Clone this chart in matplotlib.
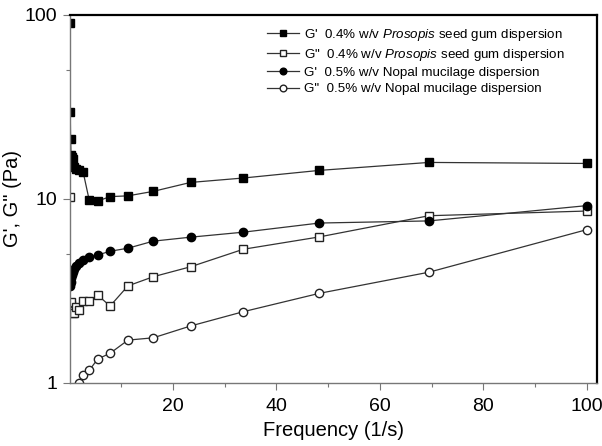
import numpy as np
import matplotlib.pyplot as plt

plt.rcParams['font.family'] = ['Liberation Sans', 'DejaVu Sans']
plt.rcParams['mathtext.fontset'] = 'custom'
plt.rcParams['mathtext.it'] = 'Liberation Sans:italic'
plt.rcParams['mathtext.rm'] = 'Liberation Sans'

# frequency sweep (1/s), 20 log-spaced points
freq = [0.1, 0.144, 0.207, 0.298, 0.429, 0.617, 0.887, 1.28, 1.83, 2.64,
        3.80, 5.46, 7.85, 11.3, 16.2, 23.4, 33.6, 48.3, 69.5, 100]

g1_prosopis = [90, 29.8, 21.1, 17.3, 17.0, 16.5, 15.0, 14.6, 14.4, 14.0,
               9.9, 9.75, 10.3, 10.4, 11.0, 12.3, 13.0, 14.3, 15.8, 15.6]
g2_prosopis = [10.2, 2.7, 2.65, 2.75, 2.45, 2.4, 2.4, 2.6, 2.5, 2.8,
               2.8, 3.0, 2.62, 3.37, 3.78, 4.28, 5.33, 6.22, 8.11, 8.6]
g1_nopal = [3.35, 3.45, 3.55, 3.7, 3.85, 4.0, 4.15, 4.3, 4.47, 4.66,
            4.85, 4.96, 5.2, 5.4, 5.9, 6.2, 6.6, 7.4, 7.6, 9.2]
# G'' nopal: points below 1 Pa fall outside the axis
freq_g2_nopal = freq[7:]
g2_nopal = [0.9, 1.0, 1.1, 1.17, 1.35, 1.45, 1.71, 1.76, 2.04, 2.44, 3.07, 4.0, 6.81]

fig = plt.figure(figsize=(6.02, 4.46), dpi=100)
ax = fig.add_axes([0.1163, 0.1413, 0.8754, 0.8251])

lc = '#333333'
ax.plot(freq, g1_prosopis, '-s', color=lc, lw=0.9, ms=5.5, mfc='black', mec='black',
        label=r"G'  0.4% w/v $\it{Prosopis}$ seed gum dispersion")
ax.plot(freq, g2_prosopis, '-s', color=lc, lw=0.9, ms=5.5, mfc='white', mec='#222222',
        label=r'G"  0.4% w/v $\it{Prosopis}$ seed gum dispersion')
ax.plot(freq, g1_nopal, '-o', color=lc, lw=0.9, ms=6, mfc='black', mec='black',
        label="G'  0.5% w/v Nopal mucilage dispersion")
ax.plot(freq_g2_nopal, g2_nopal, '-o', color=lc, lw=0.9, ms=6, mfc='white', mec='#222222',
        label='G"  0.5% w/v Nopal mucilage dispersion')

ax.set_yscale('log')
ax.set_ylim(1, 100)
ax.set_xlim(0.1, 102)

ax.set_xticks([20, 40, 60, 80, 100])
ax.set_xticks([10, 30, 50, 70, 90], minor=True)
ax.set_yticks([1, 10, 100])
ax.set_yticklabels(['1', '10', '100'])
ax.set_yticks([5, 50], minor=True)
ax.yaxis.set_minor_formatter(plt.NullFormatter())

ax.tick_params(which='major', direction='out', length=5, width=0.8, color='#777777',
               labelsize=14, pad=4)
ax.tick_params(axis='x', which='major', pad=6)
ax.tick_params(which='minor', direction='out', length=3, width=0.8, color='#777777')

for side in ['left', 'bottom']:
    ax.spines[side].set_color('#777777')
    ax.spines[side].set_linewidth(1.0)
for side in ['top', 'right']:
    ax.spines[side].set_color('black')
    ax.spines[side].set_linewidth(1.6)

ax.set_xlabel('Frequency (1/s)', fontsize=14.5, labelpad=4)
ax.set_ylabel('G\', G" (Pa)', fontsize=14.5, labelpad=2)

leg = ax.legend(loc='upper left', bbox_to_anchor=(0.373, 0.968), frameon=False,
                fontsize=9.6, handlelength=2.4, handletextpad=0.4,
                labelspacing=0.3, markerscale=0.8, borderaxespad=0, borderpad=0)

fig.savefig('out.png', dpi=100)
